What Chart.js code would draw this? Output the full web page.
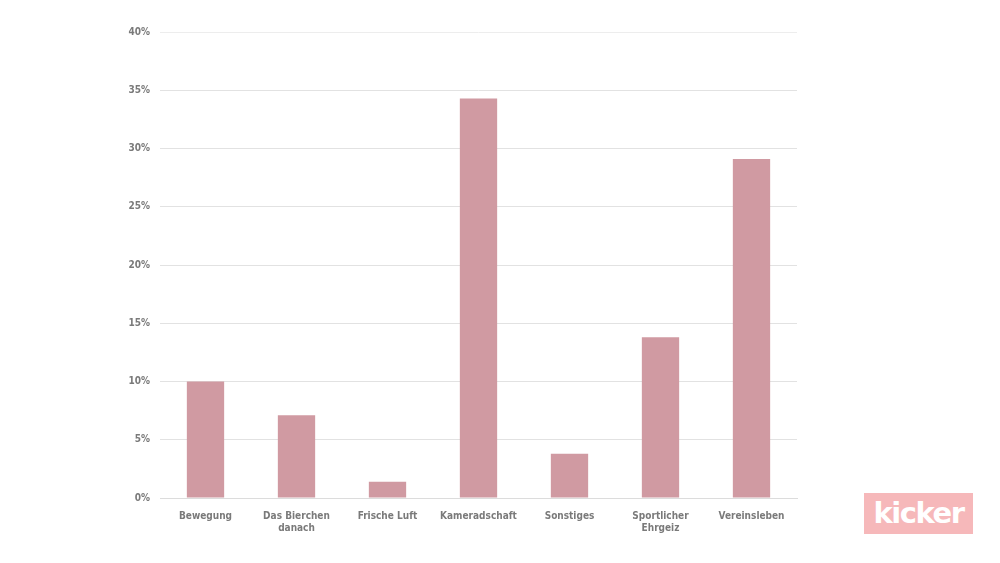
<!DOCTYPE html>
<html>
<head>
<meta charset="utf-8">
<script src="https://cdn.jsdelivr.net/npm/chart.js@4/dist/chart.umd.min.js"></script>
<style>
    html, body { margin: 0; padding: 0; background: #fff; }
    #wrap { position: relative; width: 1000px; height: 563px; }
    #logo {
        position: absolute; left: 864px; top: 493px; width: 109px; height: 41px;
        background: #f6b8ba; color: #fff; font: bold 29px 'DejaVu Sans', sans-serif;
        text-align: center; line-height: 40px; letter-spacing: -1.5px;
    }
</style>
</head>
<body>
<div id="wrap">
    <canvas id="chart" width="1000" height="563"></canvas>
    <div id="logo">kicker</div>
</div>
<script>
var categories = ['Bewegung', ['Das Bierchen', 'danach'], 'Frische Luft', 'Kameradschaft',
    'Sonstiges', ['Sportlicher', 'Ehrgeiz'], 'Vereinsleben'];
var shares = [10, 7.1, 1.4, 34.3, 3.8, 13.8, 29.1];
var yMax = 40;
var yStep = 5;

var labelFont = { family: "'DejaVu Sans Condensed', 'Liberation Sans Narrow', sans-serif", size: 10, weight: 'bold' };

var ctx = document.getElementById('chart');
var myChart = new Chart(ctx, {
    type: 'bar',
    data: {
        labels: categories,
        datasets: [{
            data: shares,
            backgroundColor: '#d09aa2',
            barPercentage: 0.41,
            categoryPercentage: 1
        }]
    },
    options: {
        responsive: false,
        animation: false,
        layout: { padding: { left: 0, right: 203, top: 32, bottom: 25 } },
        plugins: { legend: { display: false }, tooltip: { enabled: false } },
        scales: {
            x: {
                grid: { display: false },
                border: { color: '#dcdcdc' },
                ticks: { color: '#7a7a7a', font: labelFont, padding: 4, maxRotation: 0, autoSkip: false }
            },
            y: {
                min: 0,
                max: yMax,
                afterFit: function(scale) { scale.width = 160; },
                border: { display: false },
                grid: {
                    drawTicks: false,
                    color: function(c) { return c.tick && c.tick.value === yMax ? '#ededed' : '#e2e2e2'; }
                },
                ticks: {
                    stepSize: yStep,
                    padding: 10,
                    color: '#7a7a7a',
                    font: labelFont,
                    callback: function(v) { return v + '%'; }
                }
            }
        }
    }
});
</script>
</body>
</html>
